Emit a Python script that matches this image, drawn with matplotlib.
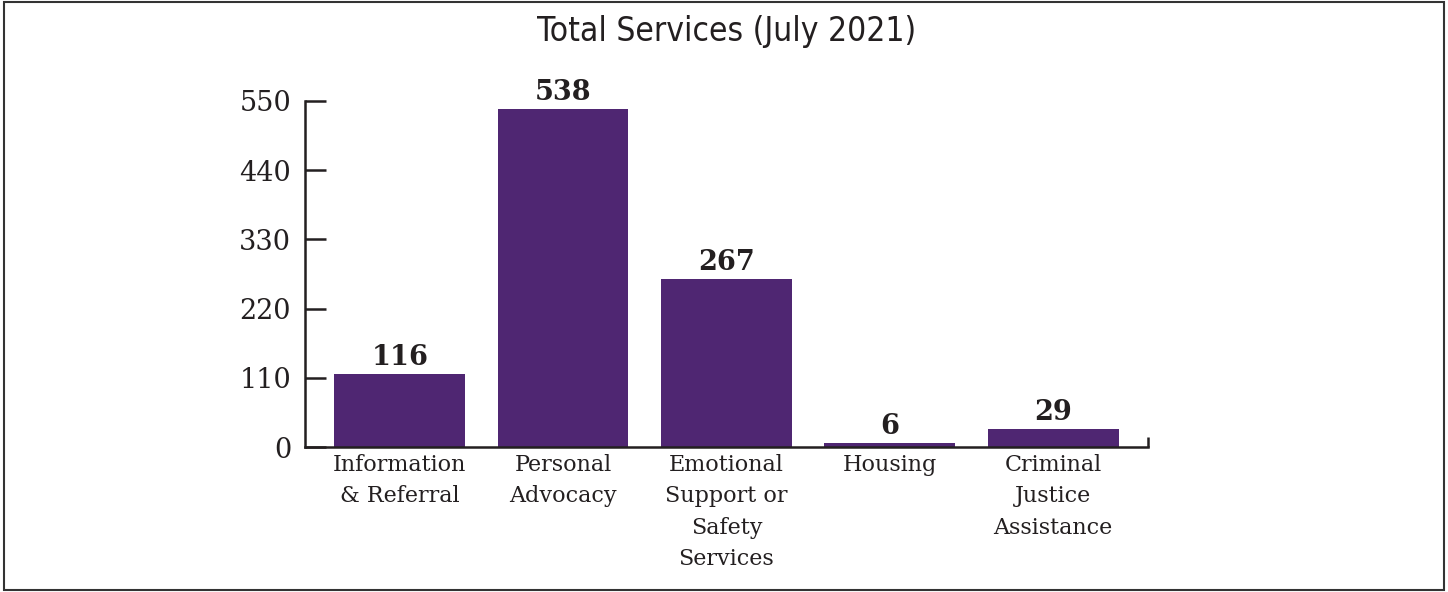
import matplotlib.pyplot as plt
from matplotlib.patches import Rectangle

# Service counts for the month
categories = ['Information\n& Referral', 'Personal\nAdvocacy',
              'Emotional\nSupport or\nSafety\nServices', 'Housing',
              'Criminal\nJustice\nAssistance']
totals = [116, 538, 267, 6, 29]
y_ticks = [0, 110, 220, 330, 440, 550]

bar_color = '#4f2672'
text_color = '#231f20'

fig = plt.figure(figsize=(14.48, 5.92), dpi=100)
ax = fig.add_axes([0.2106, 0.2449, 0.5822, 0.5845])

x = range(len(categories))
ax.bar(x, totals, width=0.8, color=bar_color, zorder=2)

for i, v in zip(x, totals):
    ax.annotate(str(v), (i, v), xytext=(0, 2), textcoords='offset points',
                ha='center', va='bottom', fontsize=19.5, fontweight='bold',
                family='DejaVu Serif', color=text_color)

ax.set_xlim(-0.58, 4.58)
ax.set_ylim(0, 550)
ax.set_yticks(y_ticks)
ax.set_yticklabels([str(t) for t in y_ticks], family='DejaVu Serif',
                   fontsize=19.5, color=text_color)
ax.set_xticks(list(x))
ax.set_xticklabels(categories, family='DejaVu Serif', fontsize=16,
                   color=text_color, linespacing=1.55)

ax.tick_params(axis='y', direction='in', length=15, width=1.8,
               color=text_color, pad=10)
ax.tick_params(axis='x', length=0, pad=5)
# single boundary tick at the right end of the category axis
ax.set_xticks([4.58], minor=True)
ax.tick_params(axis='x', which='minor', direction='in', length=7,
               width=1.8, color=text_color)

for side in ['top', 'right']:
    ax.spines[side].set_visible(False)
for side in ['left', 'bottom']:
    ax.spines[side].set_linewidth(1.8)
    ax.spines[side].set_color(text_color)

fig.text(0.502, 1 - 31 / 592, 'Total Services (July 2021)',
         ha='center', va='center', fontsize=24, fontstretch='condensed',
         family='DejaVu Sans', color=text_color)

# outer frame around the whole chart
fig.patches.append(Rectangle((0.003, 0.004), 0.994, 0.992,
                             transform=fig.transFigure, fill=False,
                             edgecolor='#333333', linewidth=1.5))

fig.savefig('out.png', dpi=100)
